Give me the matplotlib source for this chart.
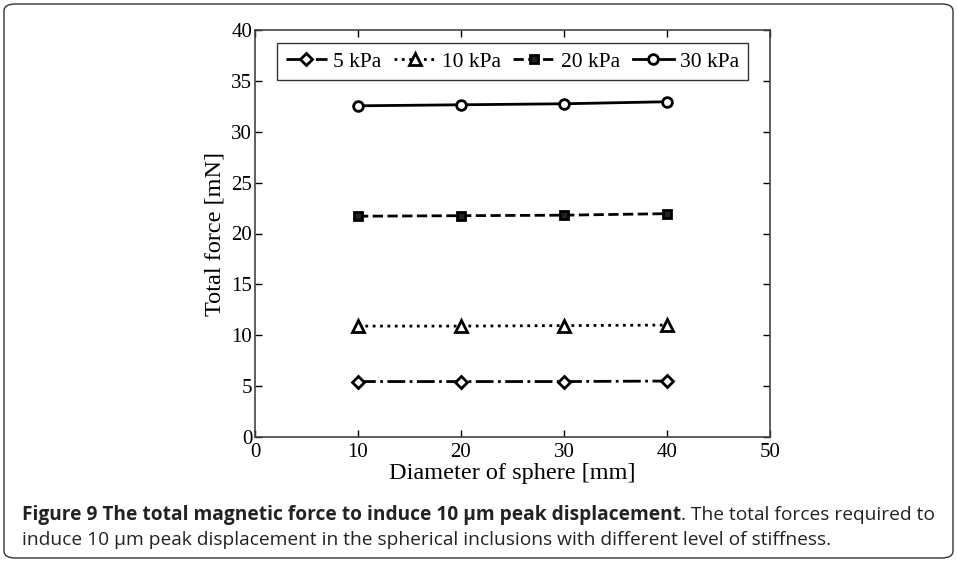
import matplotlib
matplotlib.use("Agg")
import matplotlib.pyplot as plt
from matplotlib.patches import FancyBboxPatch

# data
diameters = [10, 20, 30, 40]
force_5kpa = [5.45, 5.45, 5.45, 5.5]
force_10kpa = [10.9, 10.9, 10.95, 11.0]
force_20kpa = [21.7, 21.75, 21.8, 21.95]
force_30kpa = [32.55, 32.65, 32.75, 32.95]
series_labels = ["5 kPa", "10 kPa", "20 kPa", "30 kPa"]

caption_bold = "Figure 9 The total magnetic force to induce 10 \u03bcm peak displacement"
caption_rest = ". The total forces required to"
caption_line2 = "induce 10 \u03bcm peak displacement in the spherical inclusions with different level of stiffness."

serif = ["Liberation Serif", "DejaVu Serif"]

fig = plt.figure(figsize=(9.57, 5.62), dpi=100)
W, H = 957, 562

# rounded frame round the whole figure
frame = FancyBboxPatch((4 / W, 4 / H), (W - 8) / W, (H - 8) / H,
                       boxstyle="round,pad=0,rounding_size=0.012",
                       transform=fig.transFigure, fill=False,
                       edgecolor="#333333", linewidth=1.0)
fig.patches.append(frame)

ax = fig.add_axes([255 / W, 1 - 437 / H, (770 - 255) / W, (437 - 30) / H])

styles = [
    dict(linestyle="-.", marker="D", markersize=6, markerfacecolor="white"),
    dict(linestyle=":", marker="^", markersize=8, markerfacecolor="white"),
    dict(linestyle="--", marker="s", markersize=6, markerfacecolor="#222222"),
    dict(linestyle="-", marker="o", markersize=7, markerfacecolor="white"),
]
for ys, lab, st in zip([force_5kpa, force_10kpa, force_20kpa, force_30kpa], series_labels, styles):
    ax.plot(diameters, ys, color="black", linewidth=2, markeredgewidth=2,
            markeredgecolor="black", label=lab, **st)

ax.set_xlim(0, 50)
ax.set_ylim(0, 40)
ax.set_xticks(range(0, 51, 10))
ax.set_yticks(range(0, 41, 5))
ax.tick_params(direction="in", top=True, right=True, length=5, width=1,
               labelsize=15, pad=2)
ax.tick_params(axis="x", pad=4)
for lbl in ax.get_xticklabels() + ax.get_yticklabels():
    lbl.set_fontfamily(serif)
for sp in ax.spines.values():
    sp.set_linewidth(1.2)
    sp.set_color("#444444")

ax.set_xlabel("Diameter of sphere [mm]", fontsize=17.5, family=serif, labelpad=1)
ax.set_ylabel("Total force [mN]", fontsize=17.5, family=serif, labelpad=4)

leg = ax.legend(loc="upper center", ncol=4, frameon=True, fancybox=False,
                prop={"family": serif, "size": 15.5}, handlelength=1.9,
                handletextpad=0.3, columnspacing=0.6, borderaxespad=0.6,
                borderpad=0.4, bbox_to_anchor=(0.5, 1.0))
leg.get_frame().set_edgecolor("black")
leg.get_frame().set_linewidth(1.0)

# caption: bold part, then regular text right after it
cap_font = ["Open Sans", "DejaVu Sans"]
cap_size = 12
x0, y1, y2 = 22 / W, 1 - 520 / H, 1 - 545 / H
t1 = fig.text(x0, y1, caption_bold, fontsize=cap_size, fontweight="bold",
              family=cap_font, va="baseline", color="#222222")
t2 = fig.text(x0, y1, caption_rest, fontsize=cap_size, family=cap_font,
              va="baseline", color="#222222")
t3 = fig.text(x0, y2, caption_line2, fontsize=cap_size, family=cap_font,
              va="baseline", color="#222222")
renderer = fig.canvas.get_renderer()
# scale the caption so both lines come close to the reference's widths
w1 = t1.get_window_extent(renderer).width + t2.get_window_extent(renderer).width
w2 = t3.get_window_extent(renderer).width
cap_size = cap_size * 0.5 * (920 / w1 + 790 / w2)
for t in (t1, t2, t3):
    t.set_fontsize(cap_size)
bb = t1.get_window_extent(renderer)
t2.set_x(bb.x1 / W)

fig.savefig("out.png", dpi=100)
